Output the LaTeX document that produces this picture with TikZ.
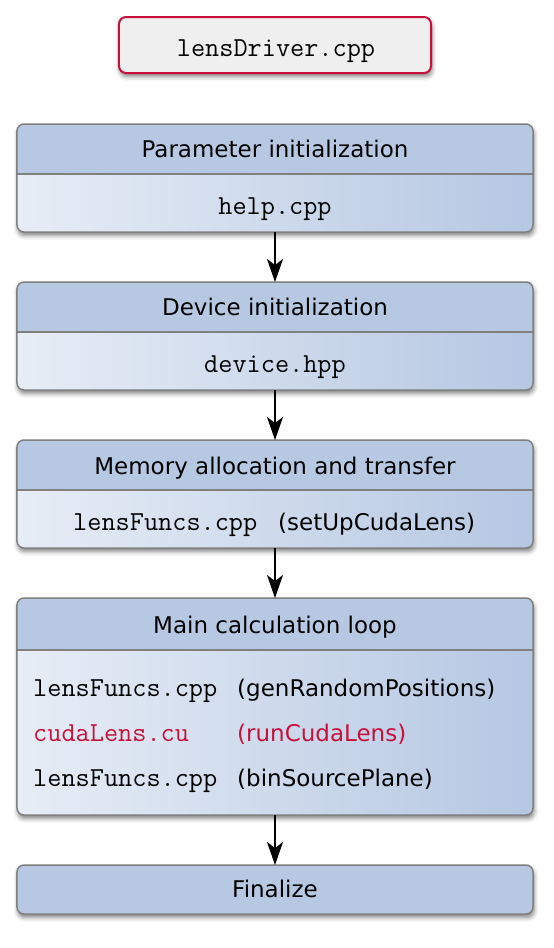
\documentclass[tikz,border=0pt]{standalone}
\usepackage{fontspec}
\setmainfont{DejaVu Sans}
\usetikzlibrary{arrows.meta,shadows,shadows.blur}
\definecolor{headcol}{RGB}{183,201,226}
\definecolor{bodyleft}{RGB}{231,237,246}
\definecolor{bodyright}{RGB}{181,199,226}
\definecolor{framecol}{RGB}{128,128,128}
\definecolor{crim}{RGB}{200,16,58}
\definecolor{boxgray}{RGB}{239,239,239}
\tikzset{
  myshadow/.style={blur shadow={shadow xshift=1bp, shadow yshift=-3.5bp, shadow blur radius=4.5bp, shadow opacity=50}},
  blockframe/.style={rectangle, rounded corners=7bp, minimum width=516bp, outer sep=0pt, inner sep=0pt, left color=bodyleft, right color=bodyright, myshadow},
  finalframe/.style={rectangle, rounded corners=7bp, minimum width=516bp, outer sep=0pt, inner sep=0pt, fill=headcol, myshadow},
  frameline/.style={draw=framecol, line width=1.5bp, rounded corners=7bp},
  divline/.style={draw=framecol, line width=1.2bp},
  headtext/.style={font=\fontsize{23bp}{27bp}\selectfont, inner sep=0pt, anchor=base},
  codetext/.style={font=\fontsize{27.5bp}{30bp}\ttfamily, inner sep=0pt, anchor=base},
  flow/.style={line width=1.5bp, -{Stealth[length=23bp,width=16bp,inset=6bp]}},
}
\begin{document}
\begin{tikzpicture}[x=1bp,y=-1bp]
\useasboundingbox (0,0) rectangle (554,948);

% top driver box
\node[draw=crim, line width=2bp, fill=boxgray, rounded corners=7bp, minimum width=312bp, minimum height=56bp, inner sep=0pt, myshadow] (drv) at (275,45) {};
\node[codetext] (drvt) at (276,56) {lensDriver.cpp};

% block 1
\node[blockframe, minimum height=108bp] (b1) at (275,178) {};
\begin{scope}
  \clip[rounded corners=7bp] (b1.south west) rectangle (b1.north east);
  \fill[headcol] (b1.north west) rectangle (533,174);
\end{scope}
\draw[divline] (17,174) -- (533,174);
\draw[frameline] (b1.south west) rectangle (b1.north east);
\node[headtext] (h1) at (275,157) {Parameter initialization};
\node[codetext] (c1) at (275,214) {help.cpp};

% block 2
\node[blockframe, minimum height=108bp] (b2) at (275,336) {};
\begin{scope}
  \clip[rounded corners=7bp] (b2.south west) rectangle (b2.north east);
  \fill[headcol] (b2.north west) rectangle (533,332);
\end{scope}
\draw[divline] (17,332) -- (533,332);
\draw[frameline] (b2.south west) rectangle (b2.north east);
\node[headtext] (h2) at (275,315) {Device initialization};
\node[codetext] (c2) at (275,372) {device.hpp};

% block 3
\node[blockframe, minimum height=108bp] (b3) at (275,494) {};
\begin{scope}
  \clip[rounded corners=7bp] (b3.south west) rectangle (b3.north east);
  \fill[headcol] (b3.north west) rectangle (533,490);
\end{scope}
\draw[divline] (17,490) -- (533,490);
\draw[frameline] (b3.south west) rectangle (b3.north east);
\node[headtext] (h3) at (275,474) {Memory allocation and transfer};
\node[codetext, anchor=base west] (c3) at (73,530) {lensFuncs.cpp};
\node[headtext, anchor=base west] (f3) at (278,530) {(setUpCudaLens)};

% block 4
\node[blockframe, minimum height=217bp] (b4) at (275,706.5) {};
\begin{scope}
  \clip[rounded corners=7bp] (b4.south west) rectangle (b4.north east);
  \fill[headcol] (b4.north west) rectangle (533,650);
\end{scope}
\draw[divline] (17,650) -- (533,650);
\draw[frameline] (b4.south west) rectangle (b4.north east);
\node[headtext] (h4) at (275,633) {Main calculation loop};
\node[codetext, anchor=base west] (c4a) at (33,696) {lensFuncs.cpp};
\node[headtext, anchor=base west] (f4a) at (237,696) {(genRandomPositions)};
\node[codetext, anchor=base west, text=crim] (c4b) at (33,741.5) {cudaLens.cu};
\node[headtext, anchor=base west, text=crim] (f4b) at (237,741.5) {(runCudaLens)};
\node[codetext, anchor=base west] (c4c) at (33,786.5) {lensFuncs.cpp};
\node[headtext, anchor=base west] (f4c) at (237,786.5) {(binSourcePlane)};

% block 5
\node[finalframe, minimum height=49bp] (b5) at (275,889.5) {};
\draw[frameline] (b5.south west) rectangle (b5.north east);
\node[headtext] (h5) at (275,897.5) {Finalize};

% arrows
\draw[flow] (b1.south) -- (b2.north);
\draw[flow] (b2.south) -- (b3.north);
\draw[flow] (b3.south) -- (b4.north);
\draw[flow] (b4.south) -- (b5.north);
\end{tikzpicture}
\end{document}
